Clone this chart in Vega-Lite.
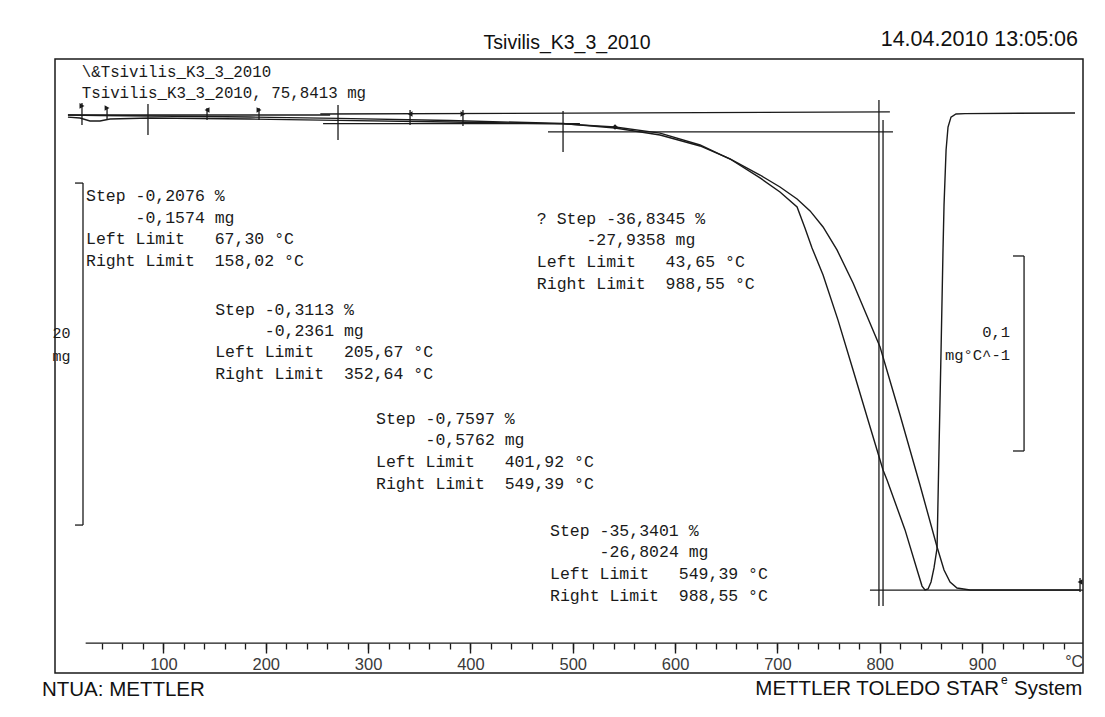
{
  "$schema": "https://vega.github.io/schema/vega-lite/v6.json",
  "width": 1028,
  "height": 614,
  "autosize": {"type": "none"},
  "padding": {"left": 55, "top": 59, "right": 22, "bottom": 44},
  "background": "white",
  "config": {"view": {"stroke": "#1a1a1a", "strokeWidth": 1.5}},
  "datasets": {
    "tga": [
      {"T": 6.7, "m": 75.84}, {"T": 38.0, "m": 75.81}, {"T": 86.9, "m": 75.78}, {"T": 184.6, "m": 75.72},
      {"T": 270.6, "m": 75.64}, {"T": 380.0, "m": 75.52}, {"T": 490.5, "m": 75.34}, {"T": 541.3, "m": 75.08},
      {"T": 585.3, "m": 74.67}, {"T": 624.4, "m": 74.03}, {"T": 653.7, "m": 73.27}, {"T": 683.0, "m": 72.33},
      {"T": 702.5, "m": 71.63}, {"T": 719.2, "m": 70.93}, {"T": 731.9, "m": 70.23}, {"T": 744.6, "m": 69.29},
      {"T": 758.2, "m": 67.95}, {"T": 773.9, "m": 66.02}, {"T": 800.3, "m": 62.27}, {"T": 819.8, "m": 58.30},
      {"T": 839.3, "m": 54.20}, {"T": 856.0, "m": 50.58}, {"T": 862.8, "m": 49.23}, {"T": 868.7, "m": 48.53},
      {"T": 875.5, "m": 48.18}, {"T": 888.2, "m": 48.06}, {"T": 995.7, "m": 48.06}
    ],
    "dtg": [
      {"T": 6.7, "d": -0.0021}, {"T": 18.5, "d": -0.0026}, {"T": 28.2, "d": -0.0041}, {"T": 38.0, "d": -0.0041},
      {"T": 47.8, "d": -0.0031}, {"T": 86.9, "d": -0.0026}, {"T": 184.6, "d": -0.0031}, {"T": 270.6, "d": -0.0038},
      {"T": 380.0, "d": -0.0046}, {"T": 490.5, "d": -0.0056}, {"T": 541.3, "d": -0.0072}, {"T": 585.3, "d": -0.0103},
      {"T": 624.4, "d": -0.0164}, {"T": 653.7, "d": -0.0236}, {"T": 683.0, "d": -0.0333}, {"T": 702.5, "d": -0.0405},
      {"T": 719.2, "d": -0.0482}, {"T": 726.9, "d": -0.0590}, {"T": 733.8, "d": -0.0692}, {"T": 744.6, "d": -0.0831},
      {"T": 759.2, "d": -0.1062}, {"T": 773.9, "d": -0.1318}, {"T": 788.5, "d": -0.1574}, {"T": 803.2, "d": -0.1831},
      {"T": 807.1, "d": -0.1882}, {"T": 824.7, "d": -0.2138}, {"T": 837.4, "d": -0.2359}, {"T": 841.3, "d": -0.2426},
      {"T": 844.2, "d": -0.2446}, {"T": 847.2, "d": -0.2441}, {"T": 850.1, "d": -0.2405}, {"T": 853.0, "d": -0.2333},
      {"T": 856.0, "d": -0.2231}, {"T": 857.9, "d": -0.1723}, {"T": 859.9, "d": -0.1215}, {"T": 861.8, "d": -0.0703},
      {"T": 862.8, "d": -0.0472}, {"T": 864.8, "d": -0.0190}, {"T": 866.7, "d": -0.0072}, {"T": 869.6, "d": -0.0021},
      {"T": 874.5, "d": -0.0005}, {"T": 883.3, "d": -0.0003}, {"T": 990.8, "d": 0.0}
    ],
    "rules": [
      {"T": 24.0, "T2": 998.6, "m": 44.96, "m2": 44.96},
      {"T": 6.7, "T2": 262.9, "m": 75.84, "m2": 75.84},
      {"T": 256.0, "T2": 507.0, "m": 75.34, "m2": 75.34},
      {"T": 253.3, "T2": 809.9, "m": 75.90, "m2": 76.02},
      {"T": 475.8, "T2": 812.9, "m": 74.85, "m2": 74.85},
      {"T": 790.4, "T2": 998.6, "m": 48.06, "m2": 48.06},
      {"T": 84.9, "T2": 84.9, "m": 76.48, "m2": 74.67},
      {"T": 270.6, "T2": 270.6, "m": 76.42, "m2": 74.38},
      {"T": 490.5, "T2": 490.5, "m": 76.07, "m2": 73.68},
      {"T": 799.2, "T2": 799.2, "m": 76.72, "m2": 47.13},
      {"T": 803.2, "T2": 803.2, "m": 75.55, "m2": 47.13},
      {"T": 21.4, "T2": 21.4, "m": 71.86, "m2": 51.86},
      {"T": 13.6, "T2": 21.4, "m": 71.86, "m2": 71.86},
      {"T": 13.6, "T2": 21.4, "m": 51.86, "m2": 51.86},
      {"T": 20.4, "T2": 20.4, "m": 76.54, "m2": 75.26},
      {"T": 44.9, "T2": 44.9, "m": 76.25, "m2": 75.55},
      {"T": 142.6, "T2": 142.6, "m": 76.25, "m2": 75.55},
      {"T": 193.4, "T2": 193.4, "m": 76.25, "m2": 75.55},
      {"T": 341.0, "T2": 341.0, "m": 76.13, "m2": 75.26},
      {"T": 392.7, "T2": 392.7, "m": 76.13, "m2": 75.20},
      {"T": 995.7, "T2": 995.7, "m": 48.76, "m2": 47.95}
    ],
    "flags": [
      {"T": 20.4, "m": 76.37, "kind": "right"},
      {"T": 44.9, "m": 76.25, "kind": "right"},
      {"T": 142.6, "m": 76.13, "kind": "left"},
      {"T": 193.4, "m": 76.13, "kind": "right"},
      {"T": 341.0, "m": 75.90, "kind": "left"},
      {"T": 392.7, "m": 75.90, "kind": "right"},
      {"T": 995.7, "m": 48.53, "kind": "left"},
      {"T": 541.3, "m": 75.14, "kind": "inflection"}
    ],
    "texts": [
      {"T": 24.33, "m": 71.10, "group": "step", "text": "Step -0,2076 %"},
      {"T": 72.7, "m": 69.82, "group": "step", "text": "-0,1574 mg"},
      {"T": 24.33, "m": 68.59, "group": "step", "text": "Left Limit\u00a0\u00a0\u00a067,30 °C"},
      {"T": 24.33, "m": 67.30, "group": "step", "text": "Right Limit\u00a0\u00a0158,02 °C"},
      {"T": 150.6, "m": 64.44, "group": "step", "text": "Step -0,3113 %"},
      {"T": 199.0, "m": 63.21, "group": "step", "text": "-0,2361 mg"},
      {"T": 150.6, "m": 61.98, "group": "step", "text": "Left Limit\u00a0\u00a0\u00a0205,67 °C"},
      {"T": 150.6, "m": 60.69, "group": "step", "text": "Right Limit\u00a0\u00a0352,64 °C"},
      {"T": 464.9, "m": 69.76, "group": "step", "text": "? Step -36,8345 %"},
      {"T": 513.3, "m": 68.53, "group": "step", "text": "-27,9358 mg"},
      {"T": 464.9, "m": 67.24, "group": "step", "text": "Left Limit\u00a0\u00a0\u00a043,65 °C"},
      {"T": 464.9, "m": 65.96, "group": "step", "text": "Right Limit\u00a0\u00a0988,55 °C"},
      {"T": 307.7, "m": 58.06, "group": "step", "text": "Step -0,7597 %"},
      {"T": 356.1, "m": 56.83, "group": "step", "text": "-0,5762 mg"},
      {"T": 307.7, "m": 55.55, "group": "step", "text": "Left Limit\u00a0\u00a0\u00a0401,92 °C"},
      {"T": 307.7, "m": 54.26, "group": "step", "text": "Right Limit\u00a0\u00a0549,39 °C"},
      {"T": 477.8, "m": 51.51, "group": "step", "text": "Step -35,3401 %"},
      {"T": 526.2, "m": 50.28, "group": "step", "text": "-26,8024 mg"},
      {"T": 477.8, "m": 48.98, "group": "step", "text": "Left Limit\u00a0\u00a0\u00a0549,39 °C"},
      {"T": 477.8, "m": 47.71, "group": "step", "text": "Right Limit\u00a0\u00a0988,55 °C"},
      {"T": 20.13, "m": 78.35, "group": "header", "text": "\\&Tsivilis_K3_3_2010"},
      {"T": 20.13, "m": 77.13, "group": "header", "text": "Tsivilis_K3_3_2010, 75,8413 mg"},
      {"T": -8.4, "m": 63.09, "group": "scale", "text": "20"},
      {"T": -8.4, "m": 61.75, "group": "scale", "text": "mg"},
      {"T": 494.4, "m": 80.05, "group": "title", "text": "Tsivilis_K3_3_2010"},
      {"T": 993.7, "m": 80.23, "group": "date", "text": "14.04.2010 13:05:06"},
      {"T": -18.7, "m": 42.21, "group": "footLeft", "text": "NTUA: METTLER"},
      {"T": 931.2, "m": 42.27, "group": "footLeft", "text": "System"},
      {"T": 916.6, "m": 42.27, "group": "footRight", "text": "METTLER TOLEDO STAR"},
      {"T": 918.5, "m": 42.80, "group": "sup", "text": "e"},
      {"T": 989.9, "m": 43.85, "group": "unit", "text": "°C"}
    ],
    "dtgBracket": [
      {"T": 941.0, "T2": 941.0, "d": -0.07333, "d2": -0.17333},
      {"T": 930.2, "T2": 941.0, "d": -0.07333, "d2": -0.07333},
      {"T": 930.2, "T2": 941.0, "d": -0.17333, "d2": -0.17333}
    ],
    "dtgTexts": [
      {"T": 927.3, "d": -0.1123, "text": "0,1"},
      {"T": 927.3, "d": -0.1241, "text": "mg°C^-1"}
    ]
  },
  "layer": [
    {
      "data": {"name": "tga"},
      "mark": {"type": "line", "stroke": "#1a1a1a", "strokeWidth": 1.4},
      "encoding": {
        "x": {"field": "T", "type": "quantitative", "scale": {"domain": [-5.96, 998.6], "nice": false, "zero": false},
          "axis": {"orient": "bottom", "offset": -30, "values": [100, 200, 300, 400, 500, 600, 700, 800, 900], "domain": false, "grid": false, "ticks": true, "tickSize": 10, "tickWidth": 1.4, "tickColor": "#1a1a1a", "labels": true, "labelFont": "Liberation Sans", "labelFontSize": 16.5, "labelColor": "#3a3a3a", "labelPadding": 3, "labelFlush": false, "title": null}},
        "y": {"field": "m", "type": "quantitative", "scale": {"domain": [43.208, 79.115], "nice": false, "zero": false}, "axis": null}
      }
    },
    {
      "data": {"name": "dtg"},
      "mark": {"type": "line", "stroke": "#1a1a1a", "strokeWidth": 1.4},
      "encoding": {
        "x": {"field": "T", "type": "quantitative", "scale": {"domain": [-5.96, 998.6], "nice": false, "zero": false},
          "axis": {"orient": "bottom", "offset": -30, "values": [40, 60, 80, 100, 120, 140, 160, 180, 200, 220, 240, 260, 280, 300, 320, 340, 360, 380, 400, 420, 440, 460, 480, 500, 520, 540, 560, 580, 600, 620, 640, 660, 680, 700, 720, 740, 760, 780, 800, 820, 840, 860, 880, 900, 920, 940, 960, 980], "domain": false, "grid": false, "ticks": true, "tickSize": 6, "tickWidth": 1.3, "tickColor": "#1a1a1a", "labels": false, "title": null}},
        "y": {"field": "d", "type": "quantitative", "scale": {"domain": [-0.28718, 0.02769], "nice": false, "zero": false}, "axis": null}
      }
    },
    {
      "data": {"name": "rules"},
      "mark": {"type": "rule", "stroke": "#1a1a1a", "strokeWidth": 1.3},
      "encoding": {
        "x": {"field": "T", "type": "quantitative", "scale": {"domain": [-5.96, 998.6], "nice": false, "zero": false}, "axis": null},
        "x2": {"field": "T2"},
        "y": {"field": "m", "type": "quantitative", "scale": {"domain": [43.208, 79.115], "nice": false, "zero": false}, "axis": null},
        "y2": {"field": "m2"}
      }
    },
    {
      "data": {"name": "flags"},
      "mark": {"type": "point", "filled": true, "color": "#1a1a1a", "size": 32, "opacity": 1},
      "encoding": {
        "x": {"field": "T", "type": "quantitative", "scale": {"domain": [-5.96, 998.6], "nice": false, "zero": false}, "axis": null},
        "y": {"field": "m", "type": "quantitative", "scale": {"domain": [43.208, 79.115], "nice": false, "zero": false}, "axis": null},
        "shape": {"field": "kind", "type": "nominal", "scale": {"domain": ["left", "right", "inflection"], "range": ["triangle-left", "triangle-right", "diamond"]}, "legend": null}
      }
    },
    {
      "data": {"name": "texts"},
      "transform": [{"filter": "datum.group == 'step'"}],
      "mark": {"type": "text", "font": "Liberation Mono", "fontSize": 16.5, "align": "left", "baseline": "middle", "color": "#1a1a1a"},
      "encoding": {
        "x": {"field": "T", "type": "quantitative", "scale": {"domain": [-5.96, 998.6], "nice": false, "zero": false}, "axis": null},
        "y": {"field": "m", "type": "quantitative", "scale": {"domain": [43.208, 79.115], "nice": false, "zero": false}, "axis": null},
        "text": {"field": "text"}
      }
    },
    {
      "data": {"name": "texts"},
      "transform": [{"filter": "datum.group == 'header'"}],
      "mark": {"type": "text", "font": "Liberation Mono", "fontSize": 15.8, "align": "left", "baseline": "middle", "color": "#1a1a1a"},
      "encoding": {
        "x": {"field": "T", "type": "quantitative", "scale": {"domain": [-5.96, 998.6], "nice": false, "zero": false}, "axis": null},
        "y": {"field": "m", "type": "quantitative", "scale": {"domain": [43.208, 79.115], "nice": false, "zero": false}, "axis": null},
        "text": {"field": "text"}
      }
    },
    {
      "data": {"name": "texts"},
      "transform": [{"filter": "datum.group == 'scale'"}],
      "mark": {"type": "text", "font": "Liberation Mono", "fontSize": 15, "align": "left", "baseline": "middle", "color": "#1a1a1a"},
      "encoding": {
        "x": {"field": "T", "type": "quantitative", "scale": {"domain": [-5.96, 998.6], "nice": false, "zero": false}, "axis": null},
        "y": {"field": "m", "type": "quantitative", "scale": {"domain": [43.208, 79.115], "nice": false, "zero": false}, "axis": null},
        "text": {"field": "text"}
      }
    },
    {
      "data": {"name": "texts"},
      "transform": [{"filter": "datum.group == 'title'"}],
      "mark": {"type": "text", "font": "Liberation Sans", "fontSize": 19.5, "align": "center", "baseline": "middle", "color": "#111111"},
      "encoding": {
        "x": {"field": "T", "type": "quantitative", "scale": {"domain": [-5.96, 998.6], "nice": false, "zero": false}, "axis": null},
        "y": {"field": "m", "type": "quantitative", "scale": {"domain": [43.208, 79.115], "nice": false, "zero": false}, "axis": null},
        "text": {"field": "text"}
      }
    },
    {
      "data": {"name": "texts"},
      "transform": [{"filter": "datum.group == 'date'"}],
      "mark": {"type": "text", "font": "Liberation Sans", "fontSize": 21.5, "align": "right", "baseline": "middle", "color": "#111111"},
      "encoding": {
        "x": {"field": "T", "type": "quantitative", "scale": {"domain": [-5.96, 998.6], "nice": false, "zero": false}, "axis": null},
        "y": {"field": "m", "type": "quantitative", "scale": {"domain": [43.208, 79.115], "nice": false, "zero": false}, "axis": null},
        "text": {"field": "text"}
      }
    },
    {
      "data": {"name": "texts"},
      "transform": [{"filter": "datum.group == 'footLeft'"}],
      "mark": {"type": "text", "font": "Liberation Sans", "fontSize": 20.5, "align": "left", "baseline": "middle", "color": "#111111"},
      "encoding": {
        "x": {"field": "T", "type": "quantitative", "scale": {"domain": [-5.96, 998.6], "nice": false, "zero": false}, "axis": null},
        "y": {"field": "m", "type": "quantitative", "scale": {"domain": [43.208, 79.115], "nice": false, "zero": false}, "axis": null},
        "text": {"field": "text"}
      }
    },
    {
      "data": {"name": "texts"},
      "transform": [{"filter": "datum.group == 'footRight'"}],
      "mark": {"type": "text", "font": "Liberation Sans", "fontSize": 20.5, "align": "right", "baseline": "middle", "color": "#111111"},
      "encoding": {
        "x": {"field": "T", "type": "quantitative", "scale": {"domain": [-5.96, 998.6], "nice": false, "zero": false}, "axis": null},
        "y": {"field": "m", "type": "quantitative", "scale": {"domain": [43.208, 79.115], "nice": false, "zero": false}, "axis": null},
        "text": {"field": "text"}
      }
    },
    {
      "data": {"name": "texts"},
      "transform": [{"filter": "datum.group == 'sup'"}],
      "mark": {"type": "text", "font": "Liberation Sans", "fontSize": 12, "align": "left", "baseline": "middle", "color": "#111111"},
      "encoding": {
        "x": {"field": "T", "type": "quantitative", "scale": {"domain": [-5.96, 998.6], "nice": false, "zero": false}, "axis": null},
        "y": {"field": "m", "type": "quantitative", "scale": {"domain": [43.208, 79.115], "nice": false, "zero": false}, "axis": null},
        "text": {"field": "text"}
      }
    },
    {
      "data": {"name": "texts"},
      "transform": [{"filter": "datum.group == 'unit'"}],
      "mark": {"type": "text", "font": "Liberation Sans", "fontSize": 16, "align": "center", "baseline": "middle", "color": "#3a3a3a"},
      "encoding": {
        "x": {"field": "T", "type": "quantitative", "scale": {"domain": [-5.96, 998.6], "nice": false, "zero": false}, "axis": null},
        "y": {"field": "m", "type": "quantitative", "scale": {"domain": [43.208, 79.115], "nice": false, "zero": false}, "axis": null},
        "text": {"field": "text"}
      }
    },
    {
      "data": {"name": "dtgBracket"},
      "mark": {"type": "rule", "stroke": "#1a1a1a", "strokeWidth": 1.3},
      "encoding": {
        "x": {"field": "T", "type": "quantitative", "scale": {"domain": [-5.96, 998.6], "nice": false, "zero": false}, "axis": null},
        "x2": {"field": "T2"},
        "y": {"field": "d", "type": "quantitative", "scale": {"domain": [-0.28718, 0.02769], "nice": false, "zero": false}, "axis": null},
        "y2": {"field": "d2"}
      }
    },
    {
      "data": {"name": "dtgTexts"},
      "mark": {"type": "text", "font": "Liberation Mono", "fontSize": 15.5, "align": "right", "baseline": "middle", "color": "#1a1a1a"},
      "encoding": {
        "x": {"field": "T", "type": "quantitative", "scale": {"domain": [-5.96, 998.6], "nice": false, "zero": false}, "axis": null},
        "y": {"field": "d", "type": "quantitative", "scale": {"domain": [-0.28718, 0.02769], "nice": false, "zero": false}, "axis": null},
        "text": {"field": "text"}
      }
    }
  ],
  "resolve": {"scale": {"y": "independent"}, "axis": {"x": "independent"}}
}
